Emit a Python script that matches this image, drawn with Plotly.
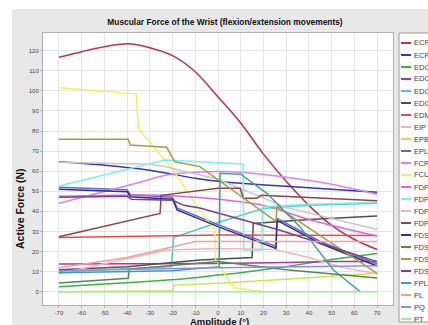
import plotly.graph_objects as go

W, H = 428, 325
# plot area in px
L, R, T, B = 43, 393, 33, 305

names = ["ECRB", "ECRL", "EDC2", "EDC3", "EDC4", "EDC5", "EDM", "EIP", "EPB", "EPL",
         "FCR", "FCU", "FDP2", "FDP3", "FDP4", "FDP5", "FDS2", "FDS3", "FDS4", "FDS5",
         "FPL", "PL", "PQ", "PT"]
colors = ["#c0304a", "#3434c0", "#3cb43c", "#b4329b", "#50c8c8", "#505050", "#f04848", "#f8b4b4",
          "#c8e650", "#6464dc", "#dc82f0", "#f0f064", "#e164e6", "#78f0f0", "#c8c8c8", "#8c4646",
          "#30307a", "#508c50", "#a0a040", "#823c82", "#3ca0a0", "#f0a0a0", "#8c8cf0", "#96f096"]
smooth = ["ECRB", "ECRL", "EDC2", "FCR", "FDP2"]

ECRB_x = [-70, -60, -50, -40, -30, -20, -10, 0, 10, 20, 30, 40, 50, 60, 70]
ECRB_y = [116.7, 119.5, 122, 123.4, 121.5, 117.5, 109.5, 97, 84, 68.5, 55, 43, 33, 26, 21]
ECRL_x = [-70, -50, -30, -10, 0, 10, 30, 50, 70]
ECRL_y = [64.7, 63, 60.5, 56.5, 55, 54, 52.5, 51, 49.5]
EDC2_x = [-70, -50, -30, -10, 0, 10, 30, 50, 70]
EDC2_y = [2.5, 3.8, 5.2, 7, 8.3, 9.5, 12.5, 16, 19]
EDC3_x = [-70, -30, 0, 30, 50, 70]
EDC3_y = [13.8, 13.8, 14, 14.5, 15, 15]
EDC4_x = [-70, -40, -20.5, -19.6, 0, 20, 40, 70]
EDC4_y = [10, 11.5, 12.5, 27, 34.5, 41.5, 43, 44]
EDC5_x = [-70, -40, -8, 15, 15.5, 40, 70]
EDC5_y = [11, 12.5, 15.8, 17, 34, 36, 37.7]
EDM_x = [-70, 0, 70]
EDM_y = [27, 28.2, 28]
EIP_x = [-70, -22.6, 0, 25, 40, 55, 70]
EIP_y = [9, 20.8, 21.5, 21, 17, 12, 9]
EPB_x = [-70, -19.8, -19.5, 0, 30, 70]
EPB_y = [0, 0.5, 3.3, 4.2, 6.2, 9.2]
EPL_x = [-70, -40, -38.5, -25, -20, -18, 0, 25.5, 26, 45, 70]
EPL_y = [52, 50.8, 48.3, 47.5, 47, 41.7, 33.4, 22.6, 36.5, 25, 13.8]
FCR_x = [-70, -36, -23, 0, 10, 30, 50, 70]
FCR_y = [44, 54, 58, 59.8, 59.5, 57, 53.5, 48.5]
FCU_x = [-70, -36, -35, -20, -9, -5, -1.5, -1, 7, 20]
FCU_y = [101.5, 98.5, 81, 61, 42, 36, 31, 16, 2, 0]
FDP2_x = [-70, -25, 0, 20, 40, 70]
FDP2_y = [47.5, 48, 46, 43, 36, 27.7]
FDP3_x = [-70, -23.3, -8, 11, 11.3, 19.3, 19.6, 40, 70]
FDP3_y = [52.6, 65.6, 64.7, 63.6, 20.8, 20.8, 42.3, 43.5, 44.5]
FDP4_x = [-70, -30, -24, 0, 30, 70]
FDP4_y = [64.5, 63.5, 62.5, 56, 42, 31]
FDP5_x = [-70, -25.5, -25, 0, 9.7, 11.2, 17, 19, 70]
FDP5_y = [27.4, 39, 48, 51.5, 51.5, 46.5, 46.5, 48, 45.3]
FDS2_x = [-70, -40, -38.5, -25, -20, -18, 0, 25.5, 26, 45, 70]
FDS2_y = [51, 49.8, 47.3, 46.5, 46, 40.7, 32.4, 21.6, 35.5, 24, 12.8]
FDS3_x = [-70, -39.5, -39, 0, 30, 70]
FDS3_y = [4.3, 6.7, 11.2, 15, 11, 6.8]
FDS4_x = [-70, -39.5, -38.7, -22.6, -19, -8, 25.5, 26, 70]
FDS4_y = [75.9, 75.9, 73, 71.9, 64.7, 62.3, 35, 42.3, 9.2]
FDS5_x = [-70, -40, -38, -20, -15, -8, 27, 70]
FDS5_y = [47, 47.5, 46, 45.5, 43, 41.7, 30.7, 15]
FPL_x = [-70, -20, 0.5, 0.9, 10, 21.5, 36, 50.8, 62.6]
FPL_y = [9.5, 10.5, 12.5, 59, 58.5, 49, 32.4, 10.8, 0]
PL_x = [-70, -40, -10, 70]
PL_y = [12, 17, 25, 25]
PQ_x = [-70, 0, 70]
PQ_y = [10.5, 12, 13]
PT_x = [-70, 70]
PT_y = [0, 0]

series_x = [ECRB_x, ECRL_x, EDC2_x, EDC3_x, EDC4_x, EDC5_x, EDM_x, EIP_x, EPB_x, EPL_x,
            FCR_x, FCU_x, FDP2_x, FDP3_x, FDP4_x, FDP5_x, FDS2_x, FDS3_x, FDS4_x, FDS5_x,
            FPL_x, PL_x, PQ_x, PT_x]
series_y = [ECRB_y, ECRL_y, EDC2_y, EDC3_y, EDC4_y, EDC5_y, EDM_y, EIP_y, EPB_y, EPL_y,
            FCR_y, FCU_y, FDP2_y, FDP3_y, FDP4_y, FDP5_y, FDS2_y, FDS3_y, FDS4_y, FDS5_y,
            FPL_y, PL_y, PQ_y, PT_y]

x_ticks = list(range(-70, 71, 10))
y_ticks = list(range(0, 121, 10))

fig = go.Figure()
for n, c, xs, ys in zip(names, colors, series_x, series_y):
    shape = "spline" if n in smooth else "linear"
    fig.add_trace(go.Scatter(x=xs, y=ys, mode="lines", name=n,
                             line=dict(color=c, width=1.5, shape=shape, smoothing=0.8),
                             showlegend=False))

def px(x):
    return (x - L) / (R - L)

def py(y):
    return (B - y) / (B - T)

shapes = []
annotations = []
# white page strips around the grey chart panel (top and left)
shapes.append(dict(type="rect", xref="paper", yref="paper", x0=px(-5), x1=px(440),
                   y0=py(9), y1=py(-5), fillcolor="white", line_width=0, layer="below"))
shapes.append(dict(type="rect", xref="paper", yref="paper", x0=px(-5), x1=px(12),
                   y0=py(340), y1=py(-5), fillcolor="white", line_width=0, layer="below"))
# legend box
shapes.append(dict(type="rect", xref="paper", yref="paper", x0=px(399), x1=px(445),
                   y0=py(322), y1=py(33), fillcolor="white",
                   line=dict(color="#9a9a9a", width=1), layer="above"))
for i, (n, c) in enumerate(zip(names, colors)):
    yy = 43 + 12 * i
    shapes.append(dict(type="line", xref="paper", yref="paper", x0=px(401), x1=px(411),
                       y0=py(yy), y1=py(yy), line=dict(color=c, width=2), layer="above"))
    annotations.append(dict(text=n, xref="paper", yref="paper", x=px(412.5), y=py(yy),
                            xanchor="left", yanchor="middle", showarrow=False,
                            font=dict(size=7.5, color="#404040", family="Liberation Sans")))

annotations.append(dict(text="<b>Active Force (N)</b>", xref="paper", yref="paper",
                        x=px(20), y=py(209), textangle=-90, showarrow=False,
                        xanchor="center", yanchor="middle",
                        font=dict(size=10.5, color="#111", family="Liberation Sans")))
annotations.append(dict(text="<b>Amplitude (°)</b>", xref="paper", yref="paper",
                        x=px(219), y=py(321), showarrow=False,
                        xanchor="center", yanchor="middle",
                        font=dict(size=9.5, color="#111", family="Liberation Sans")))

fig.update_layout(
    width=W, height=H,
    margin=dict(l=L, r=W - R, t=T, b=H - B, autoexpand=False),
    paper_bgcolor="#e8e8e8", plot_bgcolor="white",
    title=dict(text="<b>Muscular Force of the Wrist (flexion/extension movements)</b>",
               x=px(225), xref="paper", xanchor="center", y=1 - 22 / H, yref="container",
               yanchor="middle", font=dict(size=8.4, color="#111", family="Liberation Sans")),
    shapes=shapes, annotations=annotations, showlegend=False,
    xaxis=dict(range=[-77, 77], tickvals=x_ticks, ticktext=[str(v) for v in x_ticks],
               showgrid=True, gridcolor="#e4e4e4", gridwidth=1, zeroline=False,
               showline=True, linecolor="#b0b0b0", mirror=True, ticks="outside",
               ticklen=2, tickcolor="#b0b0b0",
               tickfont=dict(size=6, color="#444", family="Liberation Sans")),
    yaxis=dict(range=[-6.6, 128.8], tickvals=y_ticks, ticktext=[str(v) for v in y_ticks],
               showgrid=True, gridcolor="#e4e4e4", gridwidth=1, zeroline=False,
               showline=True, linecolor="#b0b0b0", mirror=True, ticks="outside",
               ticklen=2, tickcolor="#b0b0b0",
               tickfont=dict(size=6, color="#444", family="Liberation Sans")),
)

fig.write_html("out.html", config={"displayModeBar": False},
               post_script="document.body.style.margin='0';document.body.style.overflow='hidden';")
